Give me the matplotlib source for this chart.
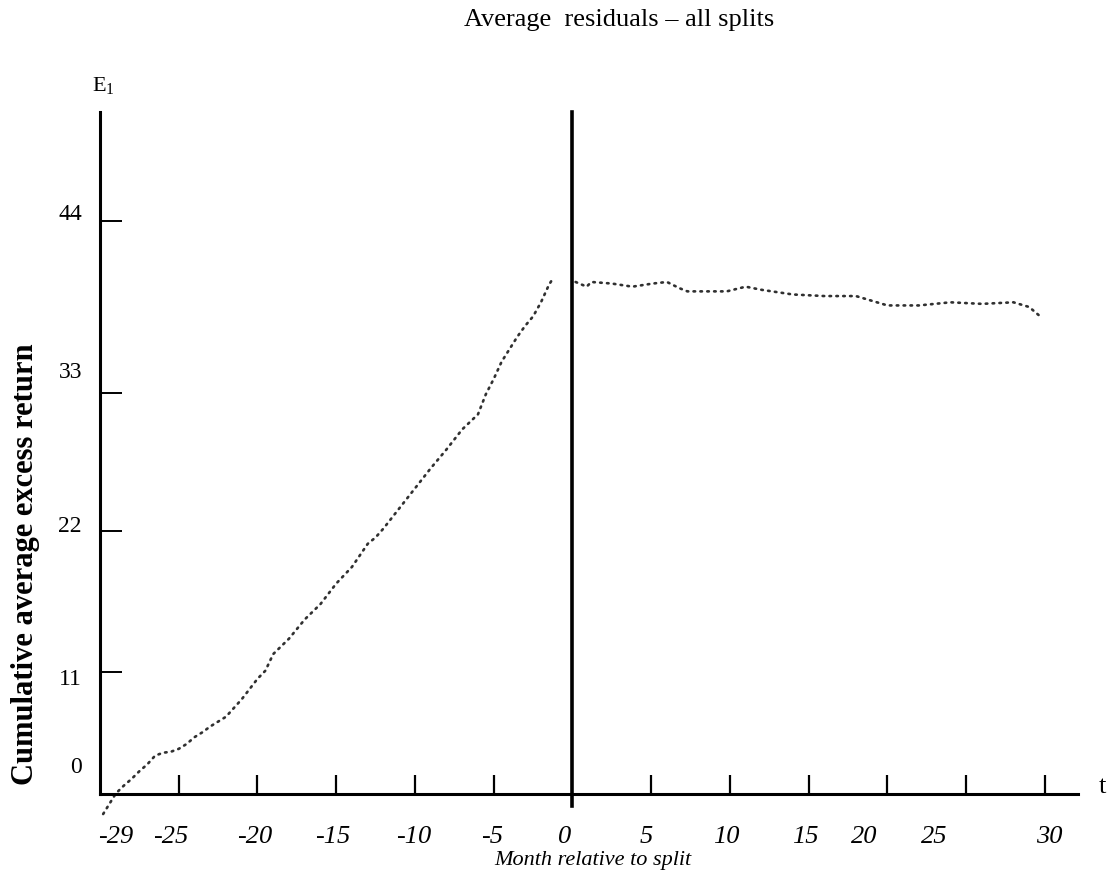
import numpy as np
import matplotlib
matplotlib.use("Agg")
import matplotlib.pyplot as plt

# ---------------- data ----------------
months_pre = [-29.8, -29, -28.5, -28, -27.5, -27, -26.5, -26, -25.5, -25, -24.5, -24,
              -23.5, -23, -22, -21, -20, -19.5, -19, -18, -17, -16, -15, -14, -13,
              -12.5, -12, -11, -10, -9, -8, -7, -6, -5.5, -5, -4.5, -4, -3.5, -3,
              -2.5, -2, -1.5, -1.2]
resid_pre = [-3.6, -1.5, -0.7, 0.0, 0.8, 1.5, 2.4, 2.7, 2.8, 3.1, 3.6, 4.3,
             4.8, 5.4, 6.4, 8.2, 10.3, 11.1, 12.4, 13.6, 15.1, 16.3, 17.9, 19.2, 21.0,
             21.5, 22.2, 23.8, 25.4, 27.0, 28.5, 30.1, 31.3, 32.9, 33.9, 35.0, 35.8, 36.6, 37.3,
             37.9, 38.8, 39.9, 40.4]

months_post = [0.2, 0.9, 1.2, 2.5, 3.8, 5.1, 6.0, 6.8, 7.3, 8.9, 9.8, 11, 12, 14, 16,
               18, 19, 20, 22, 24, 26, 28, 29, 29.7]
resid_post = [40.1, 39.8, 40.1, 40.0, 39.8, 40.0, 40.1, 39.7, 39.5, 39.5, 39.5, 39.8,
              39.6, 39.3, 39.2, 39.2, 38.9, 38.6, 38.6, 38.8, 38.7, 38.8, 38.5, 37.9]

ytick_vals = [0, 11, 22, 33, 44]
ytick_labels = ["0", "11", "22", "33", "44"]
xtick_vals = [-29, -25, -20, -15, -10, -5, 5, 10, 15, 20, 25, 30]
xlabel_vals = [-29, -25.5, -20.2, -15.2, -10.1, -5.1, -0.5, 4.7, 9.8, 14.8, 18.5, 23.0, 30.3]
xlabel_text = ["-29", "-25", "-20", "-15", "-10", "-5", "0", "5", "10", "15", "20", "25", "30"]

# label offsets (pixels, upward) as hand-placed in the original drawing
ylabel_offsets = [12, -7, 5, 21, 7]

# ---------------- hand-drawn (non-uniform) vertical scale ----------------
scale_vals = [-10, 0, 11, 22, 33, 44, 60]
scale_pos = [-877.3, -780, -673, -532, -394, -222, 28.2]


def fwd(v):
    return np.interp(v, scale_vals, scale_pos)


def inv(p):
    return np.interp(p, scale_pos, scale_vals)


plt.rcParams["font.family"] = ["Liberation Serif", "DejaVu Serif"]
plt.rcParams["mathtext.fontset"] = "stix"

W, H = 1109, 878
fig = plt.figure(figsize=(W / 100, H / 100), dpi=100)
ax_left, ax_right, ax_bot, ax_top = 100, 1078, 795, 113
ax = fig.add_axes([ax_left / W, 1 - ax_bot / H, (ax_right - ax_left) / W, (ax_bot - ax_top) / H])

ax.set_yscale("function", functions=(fwd, inv))
ax.set_ylim(float(inv(-ax_bot)), float(inv(-ax_top)))
ax.set_xlim(-30.0, 32.1)

# curves
dot = dict(color="#303030", lw=1.9, linestyle=(0, (0.6, 2.0)), clip_on=False,
           dash_capstyle="round")
ax.plot(months_pre, resid_pre, **dot)
ax.plot(months_post, resid_post, **dot)

# zero month line (extends a little below the axis, as drawn)
ax.axvline(0, ymin=-0.018, ymax=1.0, color="black", lw=2.6, clip_on=False)

# spines
for s in ["top", "right"]:
    ax.spines[s].set_visible(False)
for s in ["left", "bottom"]:
    ax.spines[s].set_linewidth(2.2)
    ax.spines[s].set_color("black")

# y ticks (labels placed by hand with small offsets)
ax.set_yticks(ytick_vals)
ax.set_yticklabels([""] * len(ytick_vals))
ax.tick_params(axis="y", direction="in", length=16, width=1.4, colors="black")
ax.yaxis.get_major_ticks()[0].tick1line.set_visible(False)
for v, lab, off in zip(ytick_vals, ytick_labels, ylabel_offsets):
    ax.annotate(lab, xy=(0, v), xycoords=ax.get_yaxis_transform(),
                xytext=(-13, off * 0.72), textcoords="offset points",
                ha="right", va="center", fontsize=17, annotation_clip=False)

# x ticks: marks as minor ticks, labels as major ticks
ax.set_xticks(xtick_vals, minor=True)
ax.set_xticks(xlabel_vals)
ax.set_xticklabels(xlabel_text, fontstyle="italic")
ax.tick_params(axis="x", which="minor", direction="in", length=14, width=1.6)
ax.tick_params(axis="x", which="major", length=0, pad=22, labelsize=19)

ax.set_xlabel("Month relative to split", fontsize=16, fontstyle="italic")
ax.xaxis.set_label_coords((593 - ax_left) / (ax_right - ax_left),
                          -(851 - ax_bot) / (ax_bot - ax_top))

fig.text(26 / W, 1 - 564 / H, "Cumulative average excess return", rotation=90,
         fontsize=22, fontweight="bold", ha="center", va="center")
fig.text(619 / W, 1 - 20 / H, "Average  residuals \u2013 all splits", fontsize=19,
         ha="center", va="center")
fig.text(103 / W, 1 - 85 / H, r"E$_{\mathregular{1}}$", fontsize=16, ha="center", va="center")
fig.text(1102 / W, 1 - 787 / H, "t", fontsize=19, ha="center", va="center")

fig.savefig("out.png", dpi=100, facecolor="white")
